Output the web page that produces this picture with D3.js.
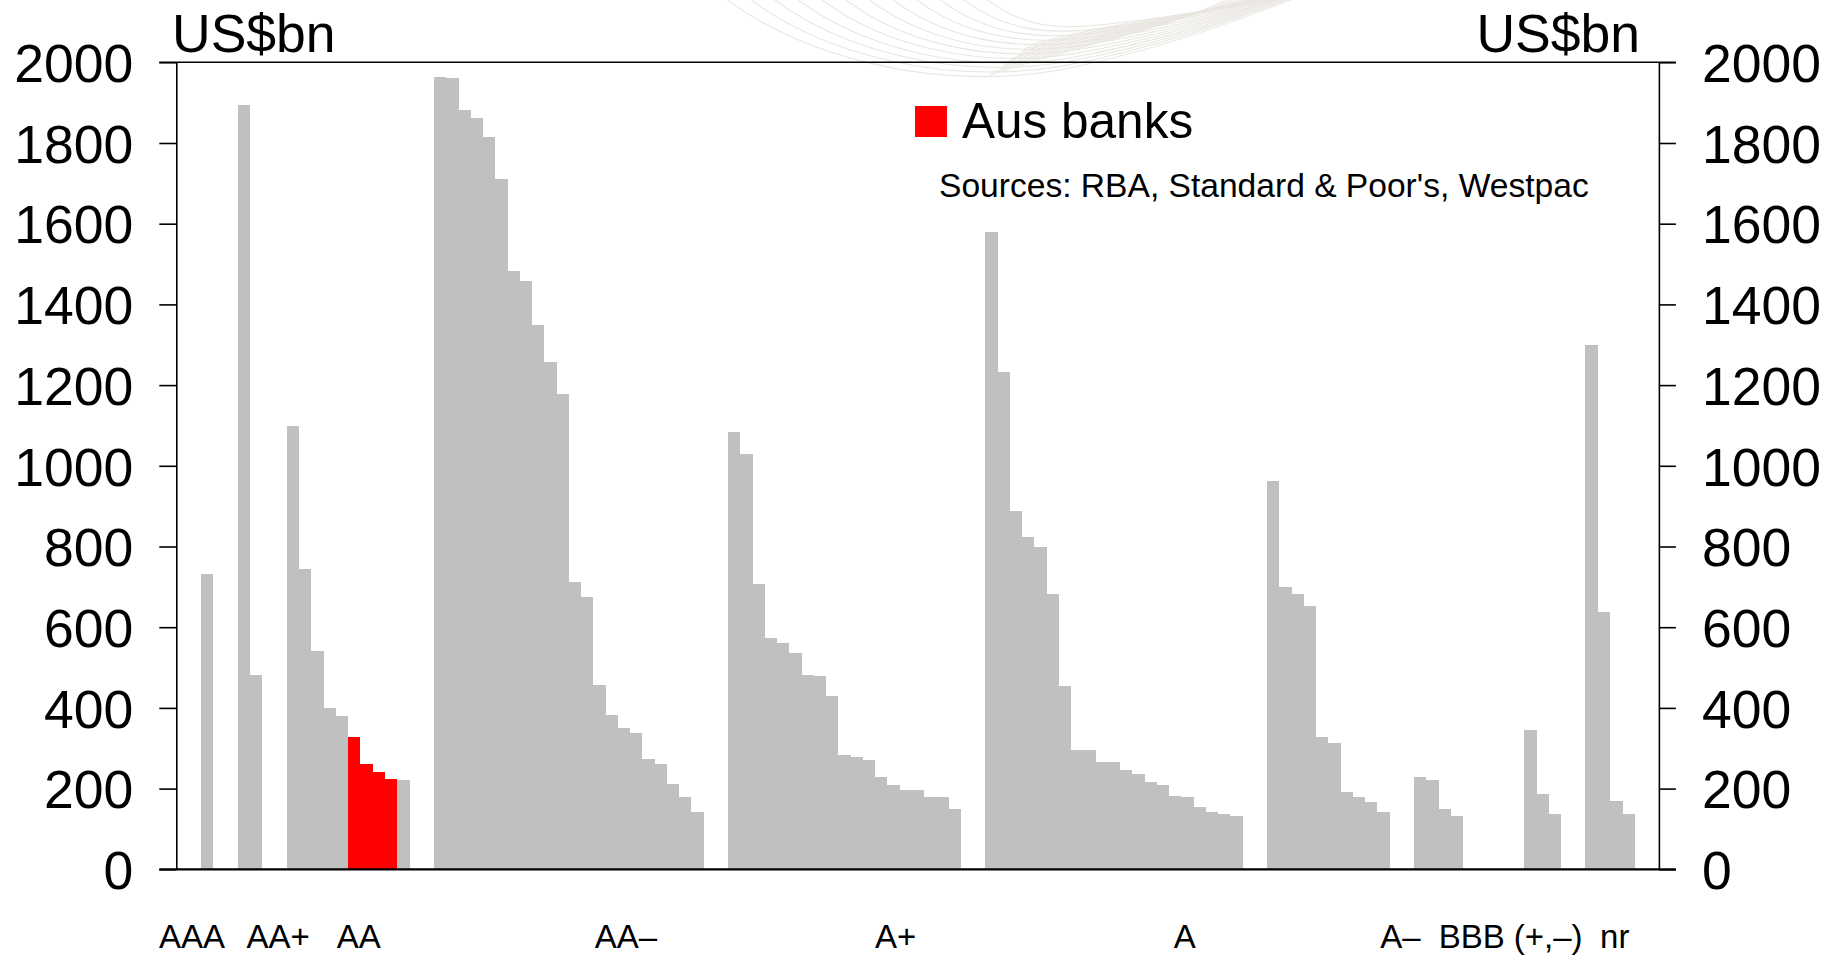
<!DOCTYPE html>
<html>
<head>
<meta charset="utf-8">
<script src="https://cdn.jsdelivr.net/npm/d3@7"></script>
<style>
  html, body { margin: 0; padding: 0; background: #fff; }
  svg { display: block; font-family: "Liberation Sans", Arial, Helvetica, sans-serif; }
</style>
</head>
<body>
<svg id="chart" width="1841" height="958"></svg>
<script>
// Banks' total assets (US$bn), grouped by S&P credit rating, largest first within each rating
const aaa      = [732];
const aaPlus   = [1894, 481];
const aa       = [1099, 744, 541, 400, 380, 328, 261, 241, 224, 221];
const aaMinus  = [1963, 1960, 1882, 1862, 1815, 1712, 1482, 1458, 1349, 1257, 1178, 712, 676, 457, 382, 351, 339, 273, 261, 211, 179, 143];
const aPlus    = [1084, 1029, 707, 573, 561, 536, 481, 479, 429, 283, 279, 271, 229, 209, 197, 197, 179, 179, 149];
const aRated   = [1579, 1232, 888, 824, 799, 682, 454, 296, 296, 266, 266, 246, 236, 216, 209, 182, 179, 154, 142, 137, 132];
const aMinus   = [962, 700, 682, 653, 328, 313, 192, 179, 167, 142];
const bbbPlus  = [229, 221, 149, 132];
const bbb      = [];
const bbbMinus = [345, 187, 137];
const notRated = [1300, 638, 169, 137];

// Positions (within the AA list) of the four major Australian banks
const ausBankIndex = [5, 6, 7, 8];

const ratingKeys   = ["AAA", "AA+", "AA", "AA–", "A+", "A", "A–", "BBB+", "BBB", "BBB–", "nr"];
const ratingValues = [aaa, aaPlus, aa, aaMinus, aPlus, aRated, aMinus, bbbPlus, bbb, bbbMinus, notRated];

// Category text under the axis and the slot it is centred on
const axisLabels    = ["AAA", "AA+", "AA", "AA–", "A+", "A", "A–", "BBB (+,–)", "nr"];
const axisLabelSlot = [1.29, 8.31, 14.9, 36.7, 58.7, 82.3, 99.9, 108.9, 117.4];

const yTicks = [0, 200, 400, 600, 800, 1000, 1200, 1400, 1600, 1800, 2000];

// ---- layout ----
const plot = { left: 176.3, right: 1658.9, top: 62.3, bottom: 869.3 };
const tickLen = 17;
const edgeGap = 2, groupGap = 2;
const GREY = "#c0c0c0", RED = "#ff0000";

// One slot per bank, blank slots between rating groups
const slots = [];
for (let k = 0; k < edgeGap; k++) slots.push(null);
ratingKeys.forEach((key, gi) => {
  if (gi > 0) for (let k = 0; k < groupGap; k++) slots.push(null);
  const vals = ratingValues[gi];
  if (vals.length === 0) slots.push(null);
  vals.forEach((v, i) => slots.push({ rating: key, value: v, aus: key === "AA" && ausBankIndex.includes(i) }));
});
for (let k = 0; k < edgeGap; k++) slots.push(null);

const svg = d3.select("#chart");

const x = d3.scaleBand()
  .domain(d3.range(slots.length))
  .range([plot.left, plot.right])
  .padding(0);

const y = d3.scaleLinear()
  .domain([0, 2000])
  .range([plot.bottom, plot.top]);

// faint decorative swoosh at the top of the page
const swoosh = svg.append("g")
  .attr("fill", "none")
  .attr("stroke", "#e4e1da")
  .attr("stroke-width", 1.1)
  .attr("opacity", 0.8);
for (let i = 0; i < 12; i++) {
  const t = i / 11;
  const p = d3.path();
  p.moveTo(725 + t * 260, -2);
  p.bezierCurveTo(800 + t * 220, 55 - t * 30, 930 + t * 120, 92 - t * 62, 1060 + t * 40, 70 - t * 45);
  p.bezierCurveTo(1150 + t * 20, 52 - t * 35, 1240 - t * 20, 20 - t * 10, 1295 - t * 40, -2);
  swoosh.append("path").attr("d", p.toString());
}
for (let i = 0; i < 10; i++) {
  const t = i / 9;
  const p = d3.path();
  p.moveTo(990 + t * 40, 75 - t * 30);
  p.bezierCurveTo(1080 + t * 20, 45 - t * 20, 1180, 25 - t * 10, 1230 + t * 60, -2);
  swoosh.append("path").attr("d", p.toString());
}

// bars
svg.append("g")
  .attr("shape-rendering", "crispEdges")
  .selectAll("rect")
  .data(slots.map((d, i) => ({ d, i })).filter(o => o.d !== null))
  .join("rect")
  .attr("x", o => x(o.i))
  .attr("width", x.bandwidth() + 0.4)
  .attr("y", o => y(o.d.value))
  .attr("height", o => y(0) - y(o.d.value))
  .attr("fill", o => o.d.aus ? RED : GREY);

// frame lines at 0 and 2000, reaching across both tick sets
svg.append("line")
  .attr("x1", plot.left - tickLen).attr("x2", plot.right + tickLen)
  .attr("y1", y(2000)).attr("y2", y(2000))
  .attr("stroke", "#000").attr("stroke-width", 1.6);
svg.append("line")
  .attr("x1", plot.left - tickLen).attr("x2", plot.right + tickLen)
  .attr("y1", y(0)).attr("y2", y(0))
  .attr("stroke", "#000").attr("stroke-width", 2.2);

function styleAxis(g) {
  g.select(".domain").attr("stroke", "#000").attr("stroke-width", 1.6);
  g.selectAll(".tick line").attr("stroke", "#000").attr("stroke-width", 1.6);
  g.selectAll(".tick text")
    .attr("fill", "#000")
    .attr("font-size", 53.5)
    .attr("font-family", "'Liberation Sans', Arial, sans-serif")
    .attr("dy", "0.36em");
}

svg.append("g")
  .attr("transform", `translate(${plot.left},0)`)
  .call(d3.axisLeft(y).tickValues(yTicks).tickSize(tickLen).tickSizeOuter(0).tickPadding(26).tickFormat(d3.format("d")))
  .call(styleAxis);

svg.append("g")
  .attr("transform", `translate(${plot.right},0)`)
  .call(d3.axisRight(y).tickValues(yTicks).tickSize(tickLen).tickSizeOuter(0).tickPadding(26).tickFormat(d3.format("d")))
  .call(styleAxis);

// unit labels
svg.append("text")
  .attr("x", 172).attr("y", 52)
  .attr("font-size", 53.5)
  .text("US$bn");
svg.append("text")
  .attr("x", 1640).attr("y", 52)
  .attr("text-anchor", "end")
  .attr("font-size", 53.5)
  .text("US$bn");

// legend
svg.append("rect")
  .attr("x", 915).attr("y", 106)
  .attr("width", 32).attr("height", 31)
  .attr("fill", RED);
svg.append("text")
  .attr("x", 962).attr("y", 138)
  .attr("font-size", 49.5)
  .text("Aus banks");
svg.append("text")
  .attr("x", 939).attr("y", 197)
  .attr("font-size", 33.6)
  .text("Sources: RBA, Standard & Poor's, Westpac");

// rating labels along the bottom
svg.append("g")
  .selectAll("text")
  .data(axisLabels)
  .join("text")
  .attr("x", (d, i) => plot.left + axisLabelSlot[i] * x.step())
  .attr("y", 948)
  .attr("text-anchor", "middle")
  .attr("font-size", 33)
  .text(d => d);
</script>
</body>
</html>
